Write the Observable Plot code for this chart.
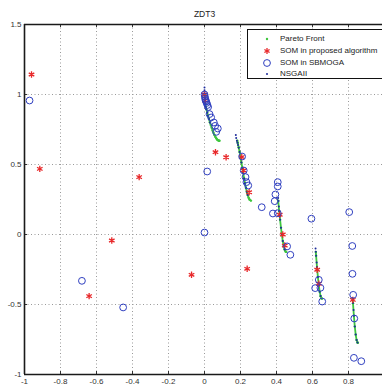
<!DOCTYPE html>
<html>
<head>
<meta charset="utf-8">
<script src="https://cdn.jsdelivr.net/npm/d3@7"></script>
<script src="https://cdn.jsdelivr.net/npm/@observablehq/plot@0.6"></script>
<style>
  html, body { margin: 0; padding: 0; background: #fff; }
  #wrap { position: relative; width: 382px; height: 388px; overflow: hidden; font-family: "Liberation Sans", Arial, sans-serif; }
  #legend { position: absolute; left: 247px; top: 29px; width: 140px; height: 50px; border: 1.5px solid #111; background: #fff; box-sizing: border-box; }
  .row { position: absolute; left: 0; height: 10px; font-size: 8px; line-height: 10px; color: #222; }
  .row svg { position: absolute; left: 14px; top: 0; }
  .row span { position: absolute; left: 32px; top: 0; white-space: nowrap; }
</style>
</head>
<body>
<div id="wrap"></div>
<script>
// ---- data ----
const titleText = ["ZDT3"];
const xTicks = [-1, -0.8, -0.6, -0.4, -0.2, 0, 0.2, 0.4, 0.6, 0.8];
const xTickLabels = ["-1", "-0.8", "-0.6", "-0.4", "-0.2", "0", "0.2", "0.4", "0.6", "0.8"];
const yTicks = [-1, -0.5, 0, 0.5, 1, 1.5];
const yTickLabels = ["-1", "-0.5", "0", "0.5", "1", "1.5"];
const legendLabels = ["Pareto Front", "SOM in proposed algorithm", "SOM in SBMOGA", "NSGAII"];

const paretoX = [0, 0.0025, 0.005, 0.01, 0.015, 0.02, 0.025, 0.03, 0.035, 0.04, 0.045, 0.05, 0.055, 0.06, 0.065, 0.07, 0.075, 0.08, 0.083,
  0.1822, 0.185, 0.19, 0.195, 0.2, 0.205, 0.21, 0.215, 0.22, 0.225, 0.23, 0.235, 0.24, 0.245, 0.25, 0.2578,
  0.4093, 0.415, 0.42, 0.425, 0.43, 0.435, 0.44, 0.445, 0.45, 0.4539,
  0.6184, 0.62, 0.625, 0.63, 0.635, 0.64, 0.645, 0.65, 0.6525,
  0.8233, 0.825, 0.83, 0.835, 0.84, 0.845, 0.85, 0.8518];
const paretoY = [1, 0.9498, 0.9285, 0.8969, 0.8707, 0.8468, 0.8242, 0.8025, 0.7817, 0.762, 0.7435, 0.7264, 0.7112, 0.698, 0.6871, 0.6788, 0.6731, 0.6702, 0.6696,
  0.6698, 0.6539, 0.6228, 0.5889, 0.5528, 0.5151, 0.4768, 0.4387, 0.4017, 0.3666, 0.3343, 0.3058, 0.2819, 0.263, 0.25, 0.2422,
  0.2422, 0.1674, 0.105, 0.0476, -0.0036, -0.0471, -0.0817, -0.1066, -0.1208, -0.1242,
  -0.1242, -0.1518, -0.2325, -0.3034, -0.3627, -0.4086, -0.4402, -0.4562, -0.4583,
  -0.4578, -0.4917, -0.5825, -0.6578, -0.7153, -0.7538, -0.772, -0.7733];
const paretoSeg = [1,1,1,1,1,1,1,1,1,1,1,1,1,1,1,1,1,1,1,
  2,2,2,2,2,2,2,2,2,2,2,2,2,2,2,2,
  3,3,3,3,3,3,3,3,3,3,
  4,4,4,4,4,4,4,4,4,
  5,5,5,5,5,5,5,5];

const somPropX = [-0.961, -0.915, -0.363, -0.515, -0.641, -0.072, 0.237, 0.061, 0.12, 0.0, 0.003, 0.207, 0.217, 0.248, 0.418, 0.435, 0.446, 0.626, 0.635, 0.824];
const somPropY = [1.143, 0.469, 0.41, -0.043, -0.44, -0.288, -0.245, 0.588, 0.552, 1.0, 0.957, 0.553, 0.457, 0.302, 0.141, 0.0, -0.079, -0.252, -0.352, -0.467];

const sbmogaX = [-0.972, -0.681, -0.452, 0.0, 0.015, 0.0, 0.002, 0.004, 0.006, 0.009, 0.012, 0.016, 0.02, 0.028, 0.037, 0.052, 0.059, 0.074, 0.065,
  0.209, 0.218, 0.228, 0.233, 0.243, 0.318, 0.38, 0.407, 0.407, 0.407, 0.394, 0.39, 0.459, 0.477, 0.594, 0.804, 0.821,
  0.615, 0.635, 0.644, 0.654, 0.822, 0.826, 0.832, 0.83, 0.871];
const sbmogaY = [0.957, -0.331, -0.521, 0.014, 0.45, 1.0, 0.985, 0.97, 0.96, 0.95, 0.94, 0.925, 0.91, 0.86, 0.836, 0.80, 0.776, 0.757, 0.733,
  0.557, 0.457, 0.41, 0.374, 0.35, 0.195, 0.15, 0.152, 0.374, 0.343, 0.286, 0.238, -0.085, -0.145, 0.113, 0.16, -0.082,
  -0.383, -0.324, -0.381, -0.479, -0.281, -0.431, -0.6, -0.881, -0.905];

const nsgaX = [0, 0, 0, 0.001, 0.002, 0.003, 0.005, 0.008, 0.01, 0.015, 0.02, 0.025, 0.03,
  0.174, 0.176, 0.18, 0.183, 0.186, 0.19, 0.195, 0.2, 0.205, 0.21, 0.215, 0.22, 0.225, 0.23, 0.235, 0.24,
  0.409, 0.411, 0.413, 0.415, 0.418, 0.42, 0.425, 0.43, 0.435, 0.44, 0.445,
  0.617, 0.618, 0.62, 0.623, 0.625, 0.63, 0.635, 0.64, 0.645,
  0.823, 0.825, 0.828, 0.83, 0.835, 0.84, 0.845, 0.85];
const nsgaY = [1.05, 1.03, 1.01, 0.99, 0.97, 0.95, 0.93, 0.91, 0.895, 0.87, 0.85, 0.825, 0.80,
  0.71, 0.69, 0.67, 0.655, 0.64, 0.62, 0.59, 0.553, 0.515, 0.477, 0.44, 0.40, 0.366, 0.334, 0.306, 0.282,
  0.26, 0.24, 0.2, 0.167, 0.13, 0.105, 0.048, -0.004, -0.047, -0.082, -0.107,
  -0.1, -0.124, -0.152, -0.2, -0.233, -0.303, -0.363, -0.409, -0.44,
  -0.458, -0.49, -0.54, -0.58, -0.658, -0.715, -0.754, -0.772];

// ---- tables ----
const pareto = paretoX.map((x, i) => ({x, y: paretoY[i], s: paretoSeg[i]}));
const somProp = somPropX.map((x, i) => ({x, y: somPropY[i]}));
const sbmoga = sbmogaX.map((x, i) => ({x, y: sbmogaY[i]}));
const nsga = nsgaX.map((x, i) => ({x, y: nsgaY[i]}));

const GREEN = "#3fc63f", RED = "#e8282a", BLUE = "#2f3fc0", NAVY = "#1c2a9a";
const fmtX = d => xTickLabels[xTicks.indexOf(d)];
const fmtY = d => yTickLabels[yTicks.indexOf(d)];

const chart = Plot.plot({
  width: 382,
  height: 388,
  marginLeft: 24,
  marginTop: 24,
  marginBottom: 14,
  marginRight: 0,
  style: {fontFamily: "Liberation Sans, Arial, sans-serif", fontSize: "8px", background: "#fff", color: "#333"},
  x: {domain: [-1, 1], range: [24, 384]},
  y: {domain: [-1, 1.5], range: [374, 24]},
  marks: [
    Plot.gridX(xTicks.slice(1), {stroke: "#9a9a9a", strokeOpacity: 1, strokeDasharray: "1,2.5"}),
    Plot.gridY(yTicks.slice(1, -1), {stroke: "#9a9a9a", strokeOpacity: 1, strokeDasharray: "1,2.5"}),
    Plot.tickX(xTicks.slice(1), {x: d => d, stroke: "#333", insetBottom: 347}),
    Plot.tickX(xTicks.slice(1), {x: d => d, stroke: "#333", insetTop: 347}),
    Plot.tickY(yTicks.slice(1, -1), {y: d => d, stroke: "#333", insetRight: 355}),
    Plot.axisX(xTicks, {anchor: "bottom", tickSize: 0, tickPadding: 4, tickFormat: fmtX, label: null, fill: "#333"}),
    Plot.axisY(yTicks, {anchor: "left", tickSize: 0, tickPadding: 3, tickFormat: fmtY, label: null, fill: "#333"}),
    Plot.ruleX([-1], {stroke: "#1a1a1a", strokeWidth: 1.6}),
    Plot.ruleY([-1], {stroke: "#1a1a1a", strokeWidth: 1.6}),
    Plot.ruleY([1.5], {stroke: "#1a1a1a", strokeWidth: 1.4}),
    Plot.line(pareto, {x: "x", y: "y", z: "s", stroke: GREEN, strokeWidth: 1.8}),
    Plot.dot(pareto, {x: "x", y: "y", r: 1.2, fill: GREEN}),
    Plot.dot(nsga, {x: "x", y: "y", r: 1, fill: NAVY}),
    Plot.dot(somProp, {x: "x", y: "y", symbol: "asterisk", r: 3, stroke: RED, strokeWidth: 1.3}),
    Plot.dot(sbmoga, {x: "x", y: "y", r: 3.4, stroke: BLUE, strokeWidth: 1, fill: "none"}),
    Plot.text(titleText, {x: 0, y: 1.5, text: d => d, dy: -10, fontSize: 8.5, fill: "#222"})
  ]
});

const wrap = document.getElementById("wrap");
wrap.appendChild(chart);

// legend
const legend = document.createElement("div");
legend.id = "legend";
const rowTops = [4, 16, 28, 39];
const markers = [
  `<circle cx="5" cy="5" r="1.2" fill="${GREEN}"/>`,
  `<g stroke="${RED}" stroke-width="1.3"><line x1="5" y1="2" x2="5" y2="8"/><line x1="2.4" y1="3.5" x2="7.6" y2="6.5"/><line x1="2.4" y1="6.5" x2="7.6" y2="3.5"/></g>`,
  `<circle cx="5" cy="5" r="3.4" fill="none" stroke="${BLUE}" stroke-width="1"/>`,
  `<circle cx="5" cy="5" r="1" fill="${NAVY}"/>`
];
legendLabels.forEach((lab, i) => {
  const row = document.createElement("div");
  row.className = "row";
  row.style.top = rowTops[i] + "px";
  row.innerHTML = `<svg width="10" height="10">${markers[i]}</svg><span>${lab}</span>`;
  legend.appendChild(row);
});
wrap.appendChild(legend);
</script>
</body>
</html>
